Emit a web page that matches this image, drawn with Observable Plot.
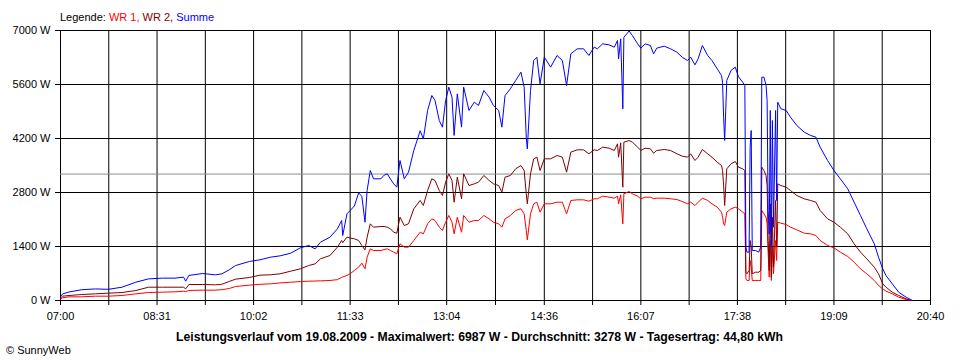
<!DOCTYPE html>
<html><head><meta charset="utf-8">
<script src="https://cdn.jsdelivr.net/npm/d3@7"></script>
<script src="https://cdn.jsdelivr.net/npm/@observablehq/plot@0.6"></script>
<style>
body{margin:0;background:#fff;}
#wrap{position:relative;width:960px;height:360px;font-family:"Liberation Sans",Arial,sans-serif;background:#fff;}
#overlay{position:absolute;left:0;top:0;pointer-events:none;}
</style>
</head><body>
<div id="wrap"></div>
<script>
// ---- data ----
const times = [
 "07:00","07:02","07:08","07:20","07:33","07:45","07:58",
 "08:11","08:23","08:36","08:48","08:56","08:58",
 "09:01","09:14","09:26","09:32","09:39","09:45","09:58",
 "10:08","10:18","10:27","10:37","10:46","10:54",
 "11:00","11:05","11:14","11:21","11:25","11:26","11:30","11:33","11:37","11:41","11:44","11:47","11:49","11:52","11:55",
 "12:02","12:05","12:08","12:11","12:14","12:17","12:20","12:24","12:28","12:33","12:39","12:42","12:46","12:50","12:53","12:57",
 "13:00","13:03","13:06","13:09","13:11","13:14","13:18","13:20","13:25","13:30","13:34","13:39","13:44","13:48","13:53","13:56","13:59",
 "14:04","14:09","14:14","14:17","14:19","14:20","14:23","14:26","14:29","14:32","14:36","14:42","14:48","14:53","14:57",
 "15:01","15:07","15:13","15:18","15:23","15:26","15:31","15:37","15:42","15:45","15:46","15:48","15:50","15:51","15:56","15:59",
 "16:04","16:07","16:11","16:16","16:19","16:22","16:29","16:35","16:41","16:46","16:51","16:54","16:58",
 "17:01","17:05","17:10","17:14","17:19","17:23","17:24","17:25","17:26","17:28","17:32","17:36","17:39","17:43","17:45","17:46","17:47","17:49","17:50","17:51","17:52","17:55","17:58",
 "18:00","18:01","18:03","18:05","18:06","18:07","18:08","18:09","18:10","18:11","18:12","18:14","18:15","18:16","18:19","18:24","18:28","18:34","18:41","18:47","18:52","18:56",
 "19:03","19:09","19:15","19:22","19:28","19:34","19:40","19:47","19:51","19:55","19:58",
 "20:04","20:10","20:17","20:21","20:23"
];
const wr1 = [
 40,70,95,95,112,112,130,
 173,207,216,225,240,230,
 260,268,268,280,311,363,397,
 420,432,455,475,490,501,
 505,510,519,540,600,610,650,692,780,864,968,821,1123,1340,1296,
 1296,1320,1340,1296,1253,1210,1470,1383,1383,1556,1771,1728,1988,2117,2074,1901,
 1815,2030,2204,2030,1728,2160,1771,2204,2030,2074,2074,2204,2117,2030,1988,1901,2117,
 2204,2333,2377,2247,1815,1573,2247,2507,2549,2290,2507,2507,2549,2549,2247,
 2593,2610,2610,2575,2636,2636,2705,2679,2653,2705,2507,2740,1988,2766,2826,2766,
 2705,2636,2679,2679,2640,2653,2653,2636,2618,2567,2507,2549,2463,
 2549,2653,2593,2507,2420,2290,2160,1988,1944,2290,2377,2420,2377,2290,2247,562,519,519,1037,864,519,519,519,
 519,2333,2247,2160,1988,1210,605,1556,519,1383,692,1556,1037,2030,2005,1970,1901,1832,1745,1728,1685,1556,
 1426,1365,1253,1141,993,821,692,519,389,302,242,
 173,86,26,5,0
];
const wr2 = [
 60,112,130,155,173,190,207,
 259,345,345,345,345,302,
 415,415,406,420,493,553,596,
 657,666,692,760,821,907,
 950,1080,1167,1383,1556,1500,1642,1620,1599,1556,1426,1314,1642,1988,1901,
 1918,1918,1900,1858,1771,1745,2160,1944,1988,2377,2593,2463,2852,3155,3111,2852,
 2722,3068,3284,3111,2549,3198,2636,3284,2981,3025,3068,3241,3111,3025,2981,2808,3198,
 3241,3414,3500,3370,2766,2507,3284,3673,3716,3370,3673,3673,3759,3716,3327,
 3846,3906,3906,3803,3906,3889,3975,3949,3889,4062,3716,4088,2938,4105,4148,4105,
 3975,3889,3949,3932,3820,3889,3915,3889,3803,3742,3716,3803,3630,
 3716,3915,3803,3716,3586,3500,3370,2981,2463,3414,3543,3604,3457,3414,3370,734,692,778,1556,1383,692,734,734,
 778,3457,3370,3241,2981,1556,778,2507,605,2160,864,2593,1383,3025,2981,2938,2852,2722,2636,2593,2549,2333,
 2117,2030,1901,1728,1470,1253,1080,864,692,432,346,
 216,130,43,10,0
];
const summe = [
 100,170,220,280,300,290,345,
 475,560,580,580,605,500,
 650,700,665,690,795,907,1011,
 1055,1123,1158,1227,1365,1426,
 1340,1512,1642,1858,2074,1685,2247,2333,2450,2790,2700,2030,2852,3370,3155,
 3155,3250,3284,3150,3025,2938,3630,3155,3327,3889,4400,4190,4926,5315,5185,4667,
 4494,5185,5530,5270,4278,5357,4494,5530,4926,5142,5056,5444,5270,5056,4926,4494,5315,
 5488,5704,5920,5530,4235,3930,5444,6222,6307,5617,6307,6050,6352,6222,5574,
 6395,6525,6525,6352,6568,6525,6654,6628,6568,6741,6265,6785,4970,6827,6987,6870,
 6654,6542,6654,6611,6395,6542,6594,6525,6438,6307,6222,6307,6110,
 6265,6611,6352,6222,6006,5833,5660,4753,4148,5704,5963,6050,5800,5660,5574,1383,1253,1253,3975,4407,1296,1296,1253,
 1383,5790,5790,5574,5185,2333,1728,4926,1383,4667,1901,4926,2593,5142,4970,4926,4753,4537,4364,4278,4235,3975,
 3630,3370,3155,2895,2549,2204,1858,1470,1123,821,648,
 432,216,86,30,0
];
const xTickLabels = ["07:00","08:31","10:02","11:33","13:04","14:36","16:07","17:38","19:09","20:40"];
const yTicks = [0, 1400, 2800, 4200, 5600, 7000];
const durchschnitt = 3278;
const seriesNames = ["WR 1", "WR 2", "Summe"];
const seriesColors = ["#ff0000", "#800000", "#0000ff"];
const captionText = "Leistungsverlauf vom 19.08.2009 - Maximalwert: 6987 W - Durchschnitt: 3278 W - Tagesertrag: 44,80 kWh";

// ---- build ----
const toMin = s => { const [h, m] = s.split(":").map(Number); return h * 60 + m; };
const rows = times.map((t, i) => ({t: toMin(t), wr1: wr1[i], wr2: wr2[i], summe: summe[i]}));
const labelMin = xTickLabels.map(toMin);
const gridMin = [];
labelMin.forEach((m, i) => { gridMin.push(m); if (i < labelMin.length - 1) gridMin.push((m + labelMin[i + 1]) / 2); });
const fmt = m => { const h = Math.floor(m / 60), mm = Math.round(m - h * 60); return String(h).padStart(2, "0") + ":" + String(mm).padStart(2, "0"); };

const chart = Plot.plot({
  width: 960, height: 360,
  marginLeft: 60, marginRight: 30, marginTop: 30, marginBottom: 60,
  style: {fontFamily: "'Liberation Sans', Arial, sans-serif", fontSize: "11px", background: "white", color: "black", overflow: "visible"},
  x: {type: "linear", domain: [labelMin[0], labelMin[labelMin.length - 1]]},
  y: {type: "linear", domain: [0, 7000]},
  marks: [
    Plot.ruleX(gridMin, {stroke: "black", strokeWidth: 1, strokeOpacity: 1}),
    Plot.ruleY(yTicks, {stroke: "black", strokeWidth: 1, strokeOpacity: 1}),
    Plot.ruleY([durchschnitt], {stroke: "#8c8c8c", strokeWidth: 1, strokeOpacity: 1}),
    Plot.axisX(gridMin, {tickSize: 5, tickPadding: 7, label: null, stroke: "black", strokeOpacity: 1, fontSize: 11,
      tickFormat: d => labelMin.includes(d) ? fmt(d) : ""}),
    Plot.axisY(yTicks, {tickSize: 5, tickPadding: 5, label: null, stroke: "black", strokeOpacity: 1, fontSize: 11,
      tickFormat: d => d + " W"}),
    Plot.line(rows, {x: "t", y: "wr1", stroke: seriesColors[0], strokeWidth: 1}),
    Plot.line(rows, {x: "t", y: "wr2", stroke: seriesColors[1], strokeWidth: 1}),
    Plot.line(rows, {x: "t", y: "summe", stroke: seriesColors[2], strokeWidth: 1})
  ]
});
const wrap = document.getElementById("wrap");
wrap.appendChild(chart);

// overlay texts: legend, caption, copyright
const svg = d3.select(wrap).append("svg").attr("id", "overlay").attr("width", 960).attr("height", 360)
  .style("font-family", "'Liberation Sans', Arial, sans-serif");
const leg = svg.append("text").attr("x", 60).attr("y", 21).attr("font-size", 11);
leg.append("tspan").attr("fill", "black").text("Legende: ");
seriesNames.forEach((n, i) => {
  leg.append("tspan").attr("fill", seriesColors[i]).text(n + (i < seriesNames.length - 1 ? ", " : ""));
});
svg.append("text").attr("x", 176).attr("y", 341).attr("font-size", 12).attr("font-weight", "bold")
  .attr("textLength", 607).attr("lengthAdjust", "spacingAndGlyphs").attr("fill", "black").text(captionText);
svg.append("text").attr("x", 6).attr("y", 354).attr("font-size", 11).attr("fill", "black").text("\u00A9 SunnyWeb");
</script>
</body></html>
